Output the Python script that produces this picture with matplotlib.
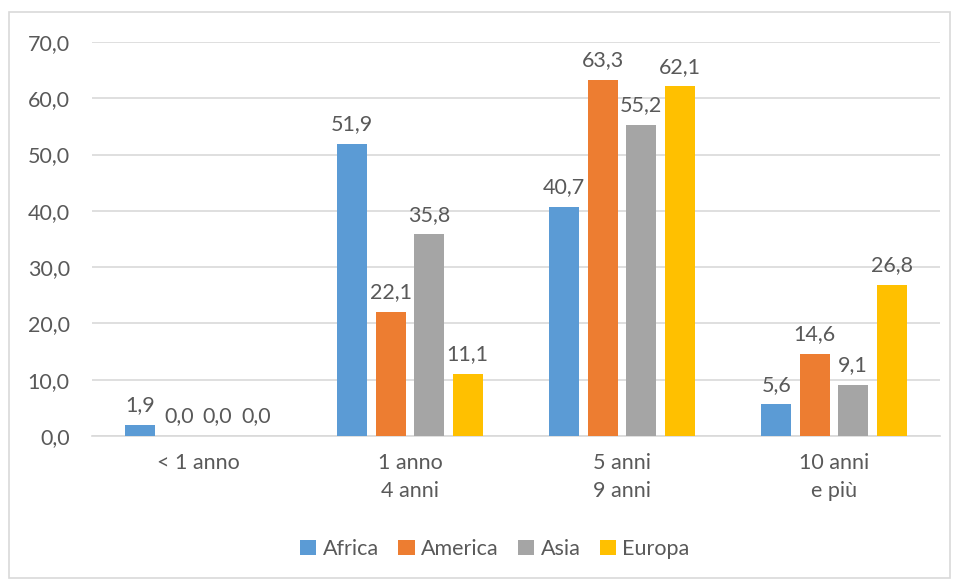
import matplotlib.pyplot as plt
import numpy as np
from matplotlib.patches import Rectangle

categories = ['< 1 anno', '1 anno\n4 anni', '5 anni\n9 anni', '10 anni\ne più']
series = ['Africa', 'America', 'Asia', 'Europa']
africa = [1.9, 51.9, 40.7, 5.6]
america = [0.0, 22.1, 63.3, 14.6]
asia = [0.0, 35.8, 55.2, 9.1]
europa = [0.0, 11.1, 62.1, 26.8]
colors = ['#5B9BD5', '#ED7D31', '#A5A5A5', '#FFC000']

plt.rcParams['font.family'] = ['Lato', 'DejaVu Sans']
text_color = '#595959'
fs = 15.5

fig = plt.figure(figsize=(9.57, 5.81), dpi=100)
ax = fig.add_axes([92 / 957, 1 - 436 / 581, (940 - 92) / 957, (436 - 42) / 581])

# light frame around the chart
fig.patches.append(Rectangle((9 / 957, 3 / 581), 941 / 957, 566 / 581,
                             transform=fig.transFigure, fill=False,
                             edgecolor='#D9D9D9', linewidth=1.2))

x = np.arange(len(categories))
pitch = 0.1816
width = 0.1415
for i, (name, vals) in enumerate(zip(series, [africa, america, asia, europa])):
    pos = x + (i - 1.5) * pitch
    bars = ax.bar(pos, vals, width, color=colors[i], label=name, zorder=3)
    for b, v in zip(bars, vals):
        ax.annotate(f'{v:.1f}'.replace('.', ','), (b.get_x() + b.get_width() / 2, v),
                    xytext=(0, 7), textcoords='offset points',
                    ha='center', va='bottom', fontsize=fs, color=text_color)

ax.set_xlim(-0.5, 3.5)
ax.set_ylim(0, 70)
ax.set_yticks(range(0, 71, 10))
ax.set_yticklabels([f'{t},0' for t in range(0, 71, 10)])
ax.set_xticks(x)
ax.set_xticklabels(categories, linespacing=1.55)
ax.tick_params(axis='both', length=0, labelsize=fs, labelcolor=text_color)
ax.tick_params(axis='y', pad=16)
ax.tick_params(axis='x', pad=12)
ax.grid(axis='y', color='#D9D9D9', linewidth=1.2, zorder=0)
for s in ['top', 'right', 'left']:
    ax.spines[s].set_visible(False)
ax.spines['bottom'].set_color('#D9D9D9')
ax.spines['bottom'].set_linewidth(1.2)

leg = ax.legend(loc='center', bbox_to_anchor=(495 / 957, 1 - 549 / 581),
                bbox_transform=fig.transFigure, ncol=4, frameon=False,
                fontsize=fs, handlelength=0.75, handleheight=0.75,
                handletextpad=0.3, columnspacing=0.9)
for t in leg.get_texts():
    t.set_color(text_color)

fig.savefig('out.png', dpi=100)
